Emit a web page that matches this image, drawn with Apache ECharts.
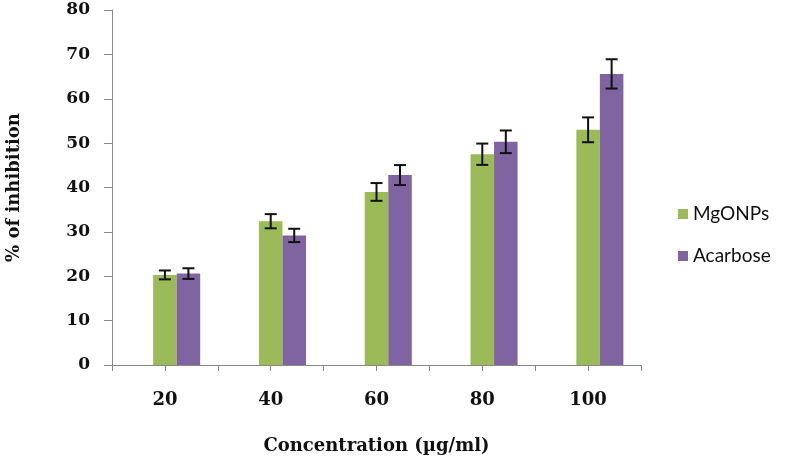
<!DOCTYPE html>
<html><head><meta charset="utf-8">
<script src="https://cdn.jsdelivr.net/npm/echarts@6/dist/echarts.min.js"></script>
<style>html,body{margin:0;padding:0;background:#fff}#c{width:787px;height:463px}</style>
</head><body><div id="c"></div>
<script>
const categories = ['20', '40', '60', '80', '100'];
const mgonps = [20.3, 32.4, 39.0, 47.5, 53.0];
const mgonpsErr = [1.0, 1.6, 2.0, 2.4, 2.8];
const acarbose = [20.6, 29.2, 42.8, 50.3, 65.6];
const acarboseErr = [1.2, 1.5, 2.25, 2.55, 3.3];
const yTicks = [0, 10, 20, 30, 40, 50, 60, 70, 80];
const tickHelper = ['', '', '', '', '', '', '', '', '', ''];

const GAP = 0.333;
const SLOTS = 3; // the original chart reserves an empty first slot per group
function errSeries(name, vals, errs, slot) {
  return {
    type: 'custom', name: name + ' err', xAxisIndex: 0, yAxisIndex: 0, z: 10,
    data: vals.map((v, i) => [i, v, errs[i]]),
    renderItem: function (params, api) {
      const i = api.value(0), v = api.value(1), e = api.value(2);
      const band = api.size([1, 0])[0];
      const bw = band * (1 - GAP) / SLOTS;
      const c = api.coord([i, v]);
      const x = c[0] + (slot - (SLOTS - 1) / 2) * bw;
      const hi = api.coord([i, v + e])[1], lo = api.coord([i, v - e])[1];
      const cap = 6;
      const st = { stroke: '#111', lineWidth: 2 };
      return { type: 'group', children: [
        { type: 'line', shape: { x1: x, y1: hi, x2: x, y2: lo }, style: st },
        { type: 'line', shape: { x1: x - cap, y1: hi, x2: x + cap, y2: hi }, style: st },
        { type: 'line', shape: { x1: x - cap, y1: lo, x2: x + cap, y2: lo }, style: st }
      ]};
    }
  };
}

const serifBold = { fontFamily: 'DejaVu Serif', fontWeight: 'bold', color: '#111' };
const chart = echarts.init(document.getElementById('c'), null, { renderer: 'canvas' });
chart.setOption({
  animation: false,
  backgroundColor: '#fff',
  grid: { left: 112, right: 146, top: 10, bottom: 98, containLabel: false, outerBoundsMode: 'none' },
  legend: {
    orient: 'vertical', left: 678, top: 204, itemGap: 22, padding: 0,
    icon: 'rect', itemWidth: 10, itemHeight: 10,
    data: ['MgONPs', 'Acarbose'],
    textStyle: { fontFamily: 'Lato', fontSize: 19, lineHeight: 20, color: '#111' }
  },
  xAxis: [{
    type: 'category', data: categories,
    name: 'Concentration (µg/ml)', nameLocation: 'middle', nameGap: 72,
    nameTextStyle: Object.assign({ fontSize: 18 }, serifBold),
    axisLine: { lineStyle: { color: '#888', width: 1 } },
    axisTick: { show: false },
    axisLabel: Object.assign({ margin: 26, fontSize: 18 }, serifBold)
  }, {
    type: 'category', data: tickHelper, position: 'bottom',
    axisLine: { show: false }, axisLabel: { show: false },
    axisTick: { show: true, length: 6, lineStyle: { color: '#888' } }
  }],
  yAxis: {
    type: 'value', min: 0, max: 80, interval: 10,
    name: '% of inhibition', nameLocation: 'middle', nameGap: 89, nameRotate: 90,
    nameTextStyle: Object.assign({ fontSize: 18 }, serifBold),
    splitLine: { show: false },
    axisLine: { show: true, lineStyle: { color: '#888' } },
    axisTick: { show: true, length: 8, inside: false, lineStyle: { color: '#888' } },
    axisLabel: Object.assign({ margin: 22, fontSize: 17,
      formatter: v => yTicks.includes(v) ? String(v) : '' }, serifBold)
  },
  series: [
    { name: '_empty', type: 'bar', data: [], barGap: '0%', barCategoryGap: (GAP * 100) + '%' },
    { name: 'MgONPs', type: 'bar', data: mgonps, barGap: '0%', barCategoryGap: (GAP * 100) + '%',
      itemStyle: { color: '#9BBB59' } },
    { name: 'Acarbose', type: 'bar', data: acarbose, barGap: '0%', barCategoryGap: (GAP * 100) + '%',
      itemStyle: { color: '#8064A2' } },
    errSeries('MgONPs', mgonps, mgonpsErr, 1),
    errSeries('Acarbose', acarbose, acarboseErr, 2)
  ]
});
</script></body></html>
